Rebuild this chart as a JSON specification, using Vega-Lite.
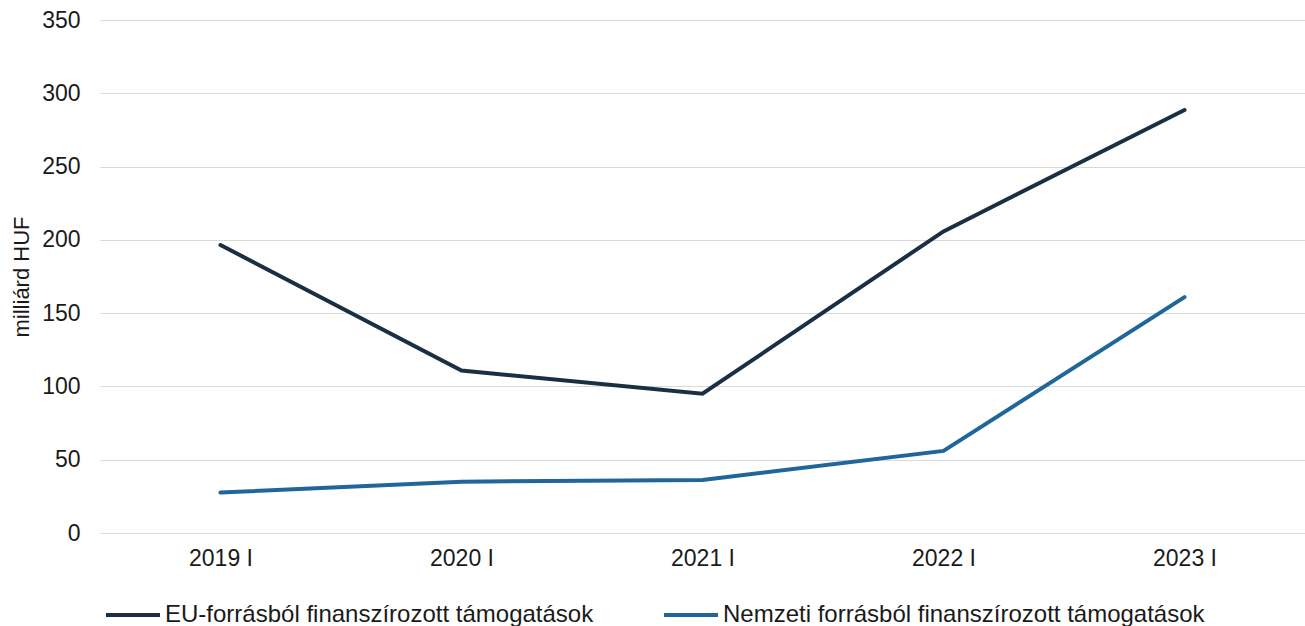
{
  "$schema": "https://vega.github.io/schema/vega-lite/v6.json",
  "width": 1205,
  "height": 513,
  "autosize": {"type": "none"},
  "padding": {"left": 100, "top": 20, "right": 0, "bottom": 93},
  "background": "white",
  "config": {
    "font": "Liberation Sans",
    "view": {"stroke": null},
    "axis": {"labelFont": "Liberation Sans", "titleFont": "Liberation Sans", "labelColor": "#1a1a1a", "titleColor": "#1a1a1a"},
    "legend": {"labelFont": "Liberation Sans"}
  },
  "data": {
    "values": [
      {"period": "2019 I", "series": "EU-forrásból finanszírozott támogatások", "value": 196.5},
      {"period": "2020 I", "series": "EU-forrásból finanszírozott támogatások", "value": 110.8},
      {"period": "2021 I", "series": "EU-forrásból finanszírozott támogatások", "value": 95},
      {"period": "2022 I", "series": "EU-forrásból finanszírozott támogatások", "value": 205.8},
      {"period": "2023 I", "series": "EU-forrásból finanszírozott támogatások", "value": 288.6},
      {"period": "2019 I", "series": "Nemzeti forrásból finanszírozott támogatások", "value": 27.6},
      {"period": "2020 I", "series": "Nemzeti forrásból finanszírozott támogatások", "value": 35},
      {"period": "2021 I", "series": "Nemzeti forrásból finanszírozott támogatások", "value": 36.2},
      {"period": "2022 I", "series": "Nemzeti forrásból finanszírozott támogatások", "value": 56},
      {"period": "2023 I", "series": "Nemzeti forrásból finanszírozott támogatások", "value": 160.9}
    ]
  },
  "mark": {"type": "line", "strokeWidth": 4, "strokeCap": "round"},
  "encoding": {
    "x": {
      "field": "period", "type": "ordinal",
      "scale": {"type": "point", "padding": 0.5},
      "axis": {"title": null, "labelAngle": 0, "labelFontSize": 23, "labelPadding": 14, "ticks": false, "domain": false, "grid": false}
    },
    "y": {
      "field": "value", "type": "quantitative",
      "scale": {"domain": [0, 350], "nice": false},
      "axis": {"title": "milliárd HUF", "titleFontSize": 22, "titleFontWeight": "normal", "titlePadding": 8, "labelFontSize": 23, "labelPadding": 20, "values": [0, 50, 100, 150, 200, 250, 300, 350], "ticks": false, "domain": false, "grid": true, "gridColor": "#d9d9d9", "gridWidth": 1}
    },
    "color": {
      "field": "series", "type": "nominal",
      "scale": {"domain": ["EU-forrásból finanszírozott támogatások", "Nemzeti forrásból finanszírozott támogatások"], "range": ["#1b2f44", "#20669a"]},
      "legend": {
        "title": null, "orient": "none", "direction": "horizontal", "legendX": 4, "legendY": 566,
        "symbolType": "stroke", "symbolSize": 2916, "symbolStrokeWidth": 4,
        "labelFontSize": 24, "labelColor": "#1a1a1a", "labelOffset": 3, "columnPadding": 62, "labelLimit": 700
      }
    }
  }
}
